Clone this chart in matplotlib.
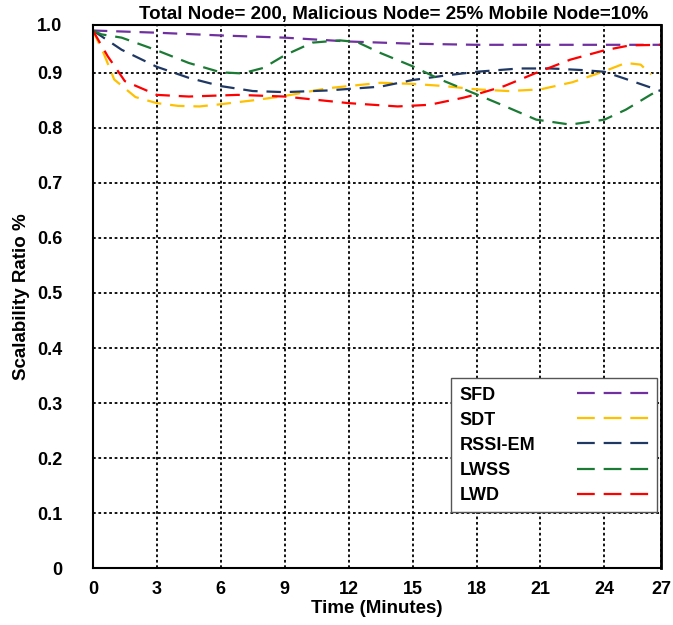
import numpy as np
import matplotlib
matplotlib.use("Agg")
import matplotlib.pyplot as plt

plt.rcParams['font.family'] = ['Liberation Sans', 'DejaVu Sans']
plt.rcParams['font.weight'] = 'bold'

# values
sfd_x = [0, 3, 6, 9, 12, 15, 18, 21, 24, 26.65]
sfd_y = [0.977, 0.973, 0.968, 0.964, 0.957, 0.953, 0.951, 0.951, 0.951, 0.951]

sdt_x = [0, 0.5, 1, 2, 3, 4, 5, 6, 7.5, 9, 11, 13.5, 15, 16.5, 18, 19.5, 21, 22.5, 24, 25, 25.7, 26.2]
sdt_y = [0.977, 0.936, 0.888, 0.856, 0.845, 0.840, 0.839, 0.843, 0.850, 0.858, 0.872, 0.882,
         0.880, 0.876, 0.870, 0.867, 0.870, 0.883, 0.903, 0.918, 0.915, 0.897]

rssi_x = [0, 1.35, 3, 4.5, 6, 7.5, 9, 11, 13.5, 15, 16.5, 18, 20, 21.5, 23, 24, 25, 26.65]
rssi_y = [0.977, 0.942, 0.911, 0.891, 0.876, 0.867, 0.865, 0.868, 0.875, 0.887, 0.895, 0.902,
          0.908, 0.908, 0.905, 0.902, 0.889, 0.867]

lwss_x = [0, 0.4, 1.35, 3, 4.5, 6, 7, 8, 9, 10.3, 11.6, 12.4, 13.5, 15, 16.3, 18, 19.3, 20.8,
          22.4, 24, 25, 26.2, 26.65]
lwss_y = [0.977, 0.970, 0.964, 0.941, 0.918, 0.901, 0.899, 0.909, 0.932, 0.955, 0.959, 0.956,
          0.936, 0.912, 0.888, 0.861, 0.840, 0.815, 0.806, 0.815, 0.833, 0.861, 0.870]

lwd_x = [0, 0.7, 1.5, 3, 4.5, 6.8, 9, 12, 14.3, 15.8, 17.4, 18, 19.3, 20.8, 22.4, 24, 25.2, 26.65]
lwd_y = [0.977, 0.930, 0.885, 0.860, 0.857, 0.860, 0.857, 0.845, 0.839, 0.842, 0.855, 0.861,
         0.876, 0.900, 0.924, 0.941, 0.950, 0.951]

series = [("SFD", sfd_x, sfd_y, "#7030A0"),
          ("SDT", sdt_x, sdt_y, "#FFC000"),
          ("RSSI-EM", rssi_x, rssi_y, "#1F3864"),
          ("LWSS", lwss_x, lwss_y, "#1B7A34"),
          ("LWD", lwd_x, lwd_y, "#FF0000")]

xticks = [0, 3, 6, 9, 12, 15, 18, 21, 24, 26.65]
xlabels = ["0", "3", "6", "9", "12", "15", "18", "21", "24", "27"]
yticks = [0, 0.1, 0.2, 0.3, 0.4, 0.5, 0.6, 0.7, 0.8, 0.9, 0.987]
ylabels = ["0", "0.1", "0.2", "0.3", "0.4", "0.5", "0.6", "0.7", "0.8", "0.9", "1.0"]

fig = plt.figure(figsize=(6.73, 6.25), dpi=100)
ax = fig.add_axes([0.138, 0.091, 0.844, 0.869])

for name, xs, ys, c in series:
    ax.plot(xs, ys, color=c, lw=1.6, dashes=(6.5, 4), label=name)

ax.set_xlim(0, 26.65)
ax.set_ylim(0, 0.987)
ax.set_xticks(xticks)
ax.set_xticklabels(xlabels)
ax.set_yticks(yticks)
ax.set_yticklabels(ylabels)
ax.tick_params(axis='both', length=0, labelsize=13)
ax.tick_params(axis='x', pad=9)
ax.tick_params(axis='y', pad=22)
ax.grid(True, color='black', linestyle=(0, (1.5, 1.5)), lw=1.3)
for s in ax.spines.values():
    s.set_linewidth(1.5)
ax.spines['right'].set_linewidth(2)

ax.set_xlabel("Time (Minutes)", fontsize=13.5, fontweight='bold', labelpad=2)
ax.set_ylabel("Scalability Ratio %", fontsize=13.5, fontweight='bold', labelpad=5)
ax.set_title("Total Node= 200, Malicious Node= 25% Mobile Node=10%",
             fontsize=13.5, fontweight='bold', x=0.53, pad=4)

leg = ax.legend(loc='lower right', bbox_to_anchor=(0.993, 0.103), borderaxespad=0,
                markerfirst=False, fontsize=13, handlelength=4.0, handletextpad=2.3,
                labelspacing=0.45, borderpad=0.45, fancybox=False, framealpha=1,
                edgecolor='#555555')
leg.get_frame().set_linewidth(1.0)
for t in leg.get_texts():
    t.set_fontweight('bold')
for ln in leg.get_lines():
    ln.set_dashes((8, 4))

# left-align the label texts by widening the gap before each handle
fig.canvas.draw()
r = fig.canvas.get_renderer()
widths = [t.get_window_extent(r).width for t in leg.get_texts()]
wmax = max(widths)
rows = leg._legend_handle_box.get_children()[0].get_children()
for hp, w in zip(rows, widths):
    hp.sep = hp.sep + (wmax - w) * 72.0 / fig.dpi

fig.savefig("out.png", dpi=100)
